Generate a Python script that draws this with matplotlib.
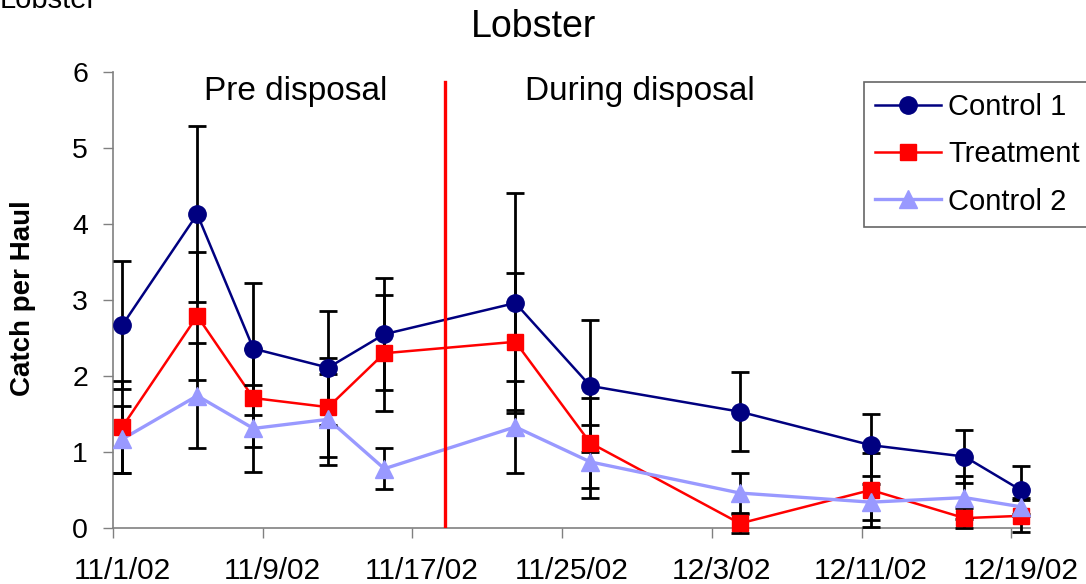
import numpy as np
import pandas as pd
import matplotlib
matplotlib.use("Agg")
import matplotlib.pyplot as plt

plt.rcParams['font.family'] = ['Liberation Sans', 'DejaVu Sans']

# Sampling dates and values
dates = ["2002-11-01", "2002-11-05", "2002-11-08", "2002-11-12", "2002-11-15",
         "2002-11-22", "2002-11-26", "2002-12-04", "2002-12-11", "2002-12-16",
         "2002-12-19"]
control1 = [2.67, 4.13, 2.36, 2.11, 2.55, 2.96, 1.87, 1.53, 1.09, 0.94, 0.50]
control1_err = [0.84, 1.16, 0.87, 0.75, 0.74, 1.45, 0.87, 0.52, 0.41, 0.35, 0.31]
treatment = [1.33, 2.79, 1.71, 1.59, 2.30, 2.45, 1.12, 0.06, 0.50, 0.13, 0.16]
treatment_err = [0.60, 0.84, 0.65, 0.65, 0.76, 0.90, 0.59, 0.12, 0.49, 0.13, 0.21]
control2 = [1.17, 1.74, 1.31, 1.43, 0.78, 1.33, 0.87, 0.46, 0.34, 0.40, 0.28]
control2_err = [0.44, 0.69, 0.57, 0.60, 0.27, 0.60, 0.48, 0.26, 0.24, 0.28, 0.12]

tick_dates = ["2002-11-01", "2002-11-09", "2002-11-17", "2002-11-25",
              "2002-12-03", "2002-12-11", "2002-12-19"]
tick_labels = ["11/1/02", "11/9/02", "11/17/02", "11/25/02",
               "12/3/02", "12/11/02", "12/19/02"]
disposal_start = "2002-11-18 06:00"

start = pd.Timestamp(dates[0])
def to_days(d):
    return (pd.to_datetime(d) - start) / pd.Timedelta(days=1)

x = np.asarray(to_days(dates))
xt = np.asarray(to_days(tick_dates))
x_red = to_days(disposal_start)

W, H = 1086, 584
fig = plt.figure(figsize=(W / 100, H / 100), dpi=100)
ax = fig.add_axes([113 / W, 56 / H, 917 / W, 456 / H])

series = [
    ("Control 1", control1, control1_err, "#000080", "o", 1.8, 12.5),
    ("Treatment", treatment, treatment_err, "#FF0000", "s", 1.8, 12),
    ("Control 2", control2, control2_err, "#9999FF", "^", 2.4, 13),
]

for name, y, err, col, mk, lw, ms in series:
    ax.errorbar(x, y, yerr=err, fmt="none", ecolor="black", elinewidth=2.0,
                capsize=6.5, capthick=2.0, zorder=3, clip_on=False)
    ax.plot(x, y, color=col, lw=lw, zorder=2, label=name)
    ax.plot(x, y, ls="none", marker=mk, color=col, ms=ms, zorder=4, clip_on=False)

ax.axvline(x_red, ymin=0, ymax=5.87 / 6, color="#FF0000", lw=2.4, zorder=5)

ax.set_xlim(-0.5, 48.5)
ax.set_ylim(0, 6)

# ticks at slot edges, labels centred on the dates
ax.set_xticks(xt - 0.5)
ax.set_xticklabels([])
ax.set_xticks(xt, minor=True)
ax.set_xticklabels(tick_labels, minor=True, fontsize=21.5)
ax.tick_params(axis="x", which="major", direction="out", length=7,
               color="#808080", width=1)
ax.tick_params(axis="x", which="minor", length=0, pad=21)
ax.set_yticks(range(0, 7))
ax.tick_params(axis="y", direction="out", length=7, color="#808080",
               width=1, labelsize=20.5, pad=11)

for s in ["top", "right"]:
    ax.spines[s].set_visible(False)
for s in ["left", "bottom"]:
    ax.spines[s].set_color("#808080")
    ax.spines[s].set_linewidth(1.2)

ax.text(9.26, 5.63, "Pre disposal", fontsize=24, ha="center", va="baseline")
ax.text(27.66, 5.63, "During disposal", fontsize=24, ha="center", va="baseline")

fig.text(533 / W, 1 - 37 / H, "Lobster", fontsize=27, ha="center", va="baseline")
fig.text(0.0, 1 - 8 / H, "Lobster", fontsize=21, ha="left", va="baseline")
fig.text(23 / W, 1 - 298 / H, "Catch per Haul", fontsize=20, fontweight="bold",
         rotation=90, ha="center", va="center")

handles = [plt.Line2D([], [], color=c, lw=lw, marker=m, ms=ms)
           for _, _, _, c, m, lw, ms in series]
leg = ax.legend(handles, [s[0] for s in series], loc="upper left",
                bbox_to_anchor=(864 / W, 1 - 82 / H), bbox_transform=fig.transFigure,
                borderaxespad=0, fontsize=21, frameon=True, fancybox=False,
                handlelength=2.25, handletextpad=0.25, labelspacing=0.66,
                borderpad=0.38)
leg.get_frame().set_edgecolor("#404040")
leg.get_frame().set_linewidth(1.2)
leg.set_zorder(10)

fig.savefig("out.png", dpi=100)
